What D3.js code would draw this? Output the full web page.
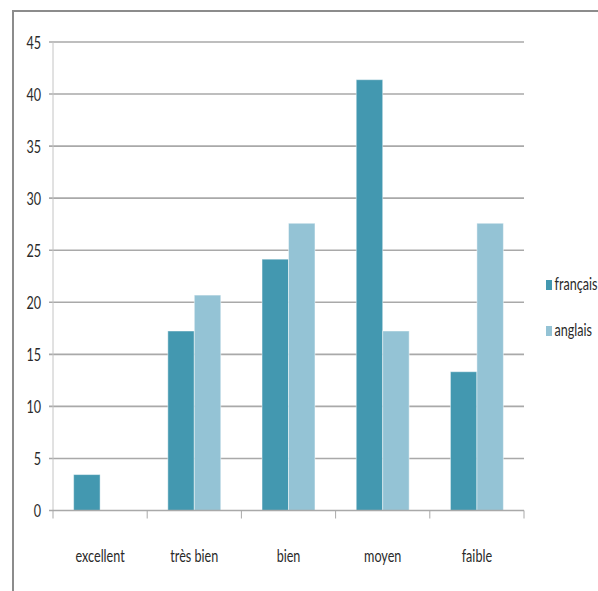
<!DOCTYPE html>
<html>
<head>
<meta charset="utf-8">
<script src="https://cdn.jsdelivr.net/npm/d3@7"></script>
<style>
  html, body { margin: 0; padding: 0; background: #fff; }
  svg { display: block; }
  text { font-family: Lato, "Open Sans", sans-serif; fill: #2a2a2a; }
</style>
</head>
<body>
<svg id="chart" width="598" height="591"></svg>
<script>
// Rating categories and the share (%) of answers per language
const categories = ["excellent", "très bien", "bien", "moyen", "faible"];
const seriesNames = ["français", "anglais"];
const francais = [3.45, 17.24, 24.14, 41.38, 13.33];
const anglais = [0, 20.69, 27.59, 17.24, 27.59];
const yTicks = [0, 5, 10, 15, 20, 25, 30, 35, 40, 45];

const colors = { "français": "#4398b0", "anglais": "#94c3d5" };
const rows = categories.map((c, i) => ({ cat: c, "français": francais[i], "anglais": anglais[i] }));

const svg = d3.select("#chart");
const W = 598, H = 591;
const plot = { left: 53, right: 524, top: 42, bottom: 510.5 };
const sx = 0.72; // narrow type

// outer frame
svg.append("path")
  .attr("d", `M13,${H + 2} L13,11 L${W + 2},11`)
  .attr("fill", "none").attr("stroke", "#8c8c8c").attr("stroke-width", 2);

const x0 = d3.scaleBand().domain(categories).range([plot.left, plot.right]).paddingInner(0).paddingOuter(0);
const bw = x0.bandwidth();
const gap = bw * 0.219;
const x1 = d3.scaleBand().domain(seriesNames).range([gap, bw - gap]);
const y = d3.scaleLinear().domain([0, 45]).range([plot.bottom, plot.top]);

// horizontal gridlines with short outward ticks
svg.append("g").selectAll("line").data(yTicks.filter(d => d > 0)).join("line")
  .attr("x1", plot.left - 4).attr("x2", plot.right)
  .attr("y1", d => y(d)).attr("y2", d => y(d))
  .attr("stroke", "#a9a9a9").attr("stroke-width", 1.6);

// y axis line
svg.append("line")
  .attr("x1", plot.left).attr("x2", plot.left)
  .attr("y1", plot.top).attr("y2", plot.bottom)
  .attr("stroke", "#c4c4c4").attr("stroke-width", 1);

// y tick labels
svg.append("g").selectAll("text").data(yTicks).join("text")
  .attr("transform", d => `translate(41,${y(d) + 6.8}) scale(${sx},1)`)
  .attr("text-anchor", "end")
  .attr("font-size", 17.5)
  .text(d => d);

// bars
const groups = svg.append("g").selectAll("g").data(rows).join("g")
  .attr("transform", d => `translate(${x0(d.cat)},0)`);
groups.selectAll("rect")
  .data(d => seriesNames.map(s => ({ s, v: d[s] })).filter(e => e.v > 0))
  .join("rect")
  .attr("x", e => x1(e.s))
  .attr("width", x1.bandwidth())
  .attr("y", e => y(e.v))
  .attr("height", e => y(0) - y(e.v))
  .attr("fill", e => colors[e.s])
  .attr("stroke", "rgba(255,255,255,0.45)")
  .attr("stroke-width", 1);

// x axis line and category ticks
svg.append("line")
  .attr("x1", plot.left - 4).attr("x2", plot.right)
  .attr("y1", y(0)).attr("y2", y(0))
  .attr("stroke", "#a9a9a9").attr("stroke-width", 1.6);
const edges = categories.map(c => x0(c)).concat([plot.right]);
svg.append("g").selectAll("line").data(edges).join("line")
  .attr("x1", d => d).attr("x2", d => d)
  .attr("y1", y(0)).attr("y2", y(0) + 8)
  .attr("stroke", "#a9a9a9").attr("stroke-width", 1);

// category labels
svg.append("g").selectAll("text").data(categories).join("text")
  .attr("transform", c => `translate(${x0(c) + bw / 2},562) scale(${sx},1)`)
  .attr("text-anchor", "middle")
  .attr("font-size", 17.5)
  .text(c => c);

// legend
const legend = svg.append("g").selectAll("g").data(seriesNames).join("g")
  .attr("transform", (s, i) => `translate(546,${280 + i * 46})`);
legend.append("rect")
  .attr("width", 6).attr("height", 10)
  .attr("fill", s => colors[s]);
legend.append("text")
  .attr("transform", `translate(8.5,10) scale(${sx},1)`)
  .attr("font-size", 17.5)
  .text(s => s);
</script>
</body>
</html>
